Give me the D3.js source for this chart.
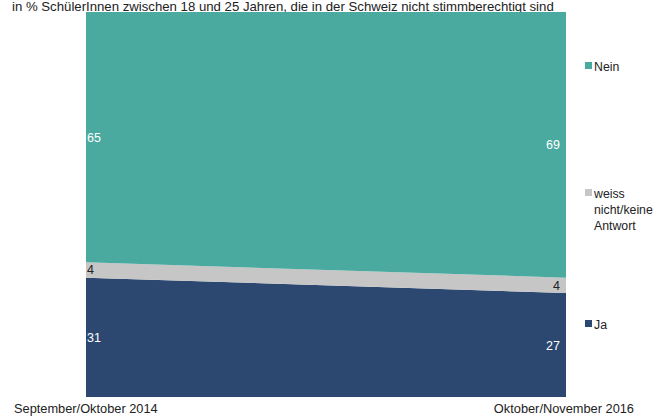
<!DOCTYPE html>
<html><head><meta charset="utf-8">
<script src="https://cdn.jsdelivr.net/npm/d3@7"></script>
<style>body{margin:0;background:#fff}svg{display:block}text{font-family:"Liberation Sans",Arial,sans-serif}</style>
</head><body>
<svg id="c" width="654" height="417"></svg>
<script>
const title = "in % SchülerInnen zwischen 18 und 25 Jahren, die in der Schweiz nicht stimmberechtigt sind";
const periods = ["September/Oktober 2014", "Oktober/November 2016"];
const seriesNames = ["Ja", "weiss nicht/keine Antwort", "Nein"];
const ja = [31, 27];
const weiss = [4, 4];
const nein = [65, 69];
const colors = ["#2c4870", "#c6c6c6", "#4aaa9f"];

const svg = d3.select("#c");
const W = 654, H = 417;
const m = {l: 86, r: 88, t: 12, b: 20};
const x = d3.scalePoint().domain(periods).range([m.l, W - m.r]);
const y = d3.scaleLinear().domain([0, 100]).range([H - m.b, m.t]);

const rows = periods.map((p, i) => ({p, Ja: ja[i], W: weiss[i], N: nein[i]}));
const stack = d3.stack().keys(["Ja", "W", "N"]);
const layers = stack(rows);
const area = d3.area().x(d => x(d.data.p)).y0(d => y(d[0])).y1(d => y(d[1]));

// title (drawn first so the plot sits on top)
svg.append("text").attr("x", 12).attr("y", 11).attr("font-size", 13.2).attr("fill", "#222").text(title);

svg.selectAll("path.a").data(layers).join("path")
  .attr("d", area).attr("fill", (d, i) => colors[i]);

// value labels
const labelCol = ["#fff", "#222", "#fff"];
layers.forEach((L, li) => {
  L.forEach((d, i) => {
    const left = i === 0;
    svg.append("text")
      .attr("x", left ? x(d.data.p) + 1 : x(d.data.p) - 6)
      .attr("y", (y(d[0]) + y(d[1])) / 2 + 4.5)
      .attr("text-anchor", left ? "start" : "end")
      .attr("font-size", 12.5).attr("fill", labelCol[li])
      .text(d[1] - d[0]);
  });
});

// x labels
svg.append("text").attr("x", 14).attr("y", 413).attr("font-size", 12.8).attr("fill", "#222").text(periods[0]);
svg.append("text").attr("x", 634).attr("y", 413).attr("text-anchor", "end").attr("font-size", 12.8).attr("fill", "#222").text(periods[1]);

// legend
const legend = [
  {c: colors[2], y: 66, lines: ["Nein"]},
  {c: colors[1], y: 193, lines: ["weiss", "nicht/keine", "Antwort"]},
  {c: colors[0], y: 324, lines: ["Ja"]}
];
legend.forEach(l => {
  svg.append("rect").attr("x", 585).attr("y", l.y - 4).attr("width", 7).attr("height", 7).attr("fill", l.c);
  const t = svg.append("text").attr("x", 594).attr("y", l.y + 4.5).attr("font-size", 12.3).attr("fill", "#222");
  l.lines.forEach((s, i) => t.append("tspan").attr("x", 594).attr("dy", i ? 16 : 0).text(s));
});
</script>
</body></html>
